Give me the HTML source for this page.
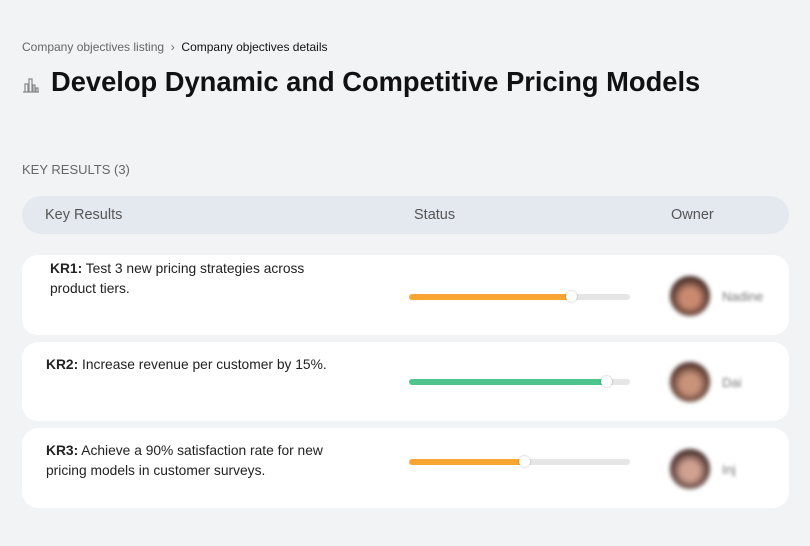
<!DOCTYPE html>
<html><head><style>
body{margin:0;width:810px;height:546px;background:#f2f3f5;font-family:"Liberation Sans",sans-serif;position:relative;overflow:hidden;color:#111}
.a{position:absolute}
.card{position:absolute;left:22px;width:767px;background:#fff;border-radius:16px}
.bar{position:absolute;left:409px;width:221px;height:6px;border-radius:3px;background:#e6e6e6}
.fill{position:absolute;left:0;top:0;height:6px;border-radius:3px}
.th{position:absolute;top:-3px;width:11px;height:11px;border-radius:50%;background:#fff;box-shadow:0 0 2px rgba(0,0,0,.3);margin-left:-6px}
.av{position:absolute;left:670px;width:40px;height:40px;border-radius:50%;filter:blur(2px)}
.nm{position:absolute;left:722px;font-size:13px;color:#777;filter:blur(1.5px)}
.t{position:absolute;font-size:13.8px;line-height:20px;color:#222}
</style></head><body>
<div class="a" style="left:22px;top:40px;font-size:12px;color:#666">Company objectives listing &nbsp;›&nbsp; <span style="color:#111">Company objectives details</span></div>
<svg class="a" style="left:22px;top:76px" width="18" height="18" viewBox="0 0 18 18" fill="none" stroke="#888" stroke-width="1.2"><path d="M1 16h16M3 16V8h3v8M7 16V3h3v13M11 16V9h2v7M14 16v-4h2v4"/></svg>
<div class="a" style="left:51px;top:66px;font-size:27.3px;font-weight:bold;color:#111">Develop Dynamic and Competitive Pricing Models</div>
<div class="a" style="left:22px;top:162px;font-size:13px;color:#666">KEY RESULTS (3)</div>
<div class="a" style="left:22px;top:196px;width:767px;height:38px;border-radius:19px;background:#e4e8ef"></div>
<div class="a" style="left:45px;top:207px;font-size:14.5px;color:#555">Key Results</div>
<div class="a" style="left:414px;top:207px;font-size:14.5px;color:#555">Status</div>
<div class="a" style="left:671px;top:207px;font-size:14.5px;color:#555">Owner</div>

<div class="card" style="top:255px;height:80px"></div>
<div class="t" style="left:50px;top:259px"><b>KR1:</b> Test 3 new pricing strategies across<br>product tiers.</div>
<div class="bar" style="top:294px"><div class="fill" style="width:163px;background:#f9a533"></div><div class="th" style="left:163px"></div></div>
<div class="av" style="top:276px;background:radial-gradient(circle at 50% 55%,#c98a70 30%,#3a2420 70%)"></div>
<div class="nm" style="top:289px">Nadine</div>

<div class="card" style="top:342px;height:79px"></div>
<div class="t" style="left:46px;top:355px"><b>KR2:</b> Increase revenue per customer by 15%.</div>
<div class="bar" style="top:379px"><div class="fill" style="width:198px;background:#4fc48c"></div><div class="th" style="left:198px"></div></div>
<div class="av" style="top:362px;background:radial-gradient(circle at 50% 55%,#c9927a 30%,#4a2e26 70%)"></div>
<div class="nm" style="top:375px">Dai</div>

<div class="card" style="top:428px;height:80px"></div>
<div class="t" style="left:46px;top:441px"><b>KR3:</b> Achieve a 90% satisfaction rate for new<br>pricing models in customer surveys.</div>
<div class="bar" style="top:459px"><div class="fill" style="width:116px;background:#f9a533"></div><div class="th" style="left:116px"></div></div>
<div class="av" style="top:449px;background:radial-gradient(circle at 50% 55%,#d0a090 30%,#3a2522 70%)"></div>
<div class="nm" style="top:462px">Inj</div>
</body></html>
